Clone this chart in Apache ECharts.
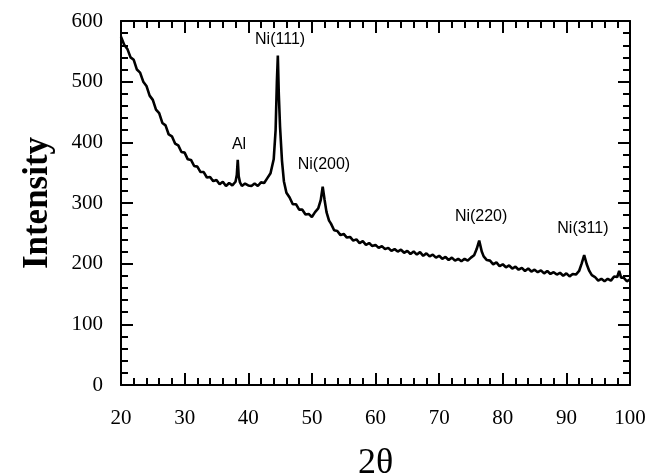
<!DOCTYPE html>
<html>
<head>
<meta charset="utf-8">
<script src="https://cdn.jsdelivr.net/npm/echarts@6/dist/echarts.min.js"></script>
<style>html,body{margin:0;padding:0;background:#fff}#c{width:648px;height:475px}</style>
</head>
<body>
<div id="c"></div>
<script>
const twoTheta = [20,20.5,21,21.5,22,22.5,23,23.5,24,24.5,25,25.5,26,26.5,27,27.5,28,28.5,29,29.5,
30,30.5,31,31.5,32,32.5,33,33.5,34,34.5,35,35.5,36,36.5,37,37.5,38,38.2,38.35,38.5,38.7,39,39.5,
40,40.5,41,41.5,42,42.5,43,43.5,44,44.3,44.5,44.65,44.8,45,45.3,45.6,46,46.5,47,47.5,48,48.5,49,49.5,
50,50.5,51,51.4,51.7,52,52.3,52.7,53,53.5,54,54.5,55,55.5,56,56.5,57,57.5,58,58.5,59,59.5,
60,60.5,61,61.5,62,62.5,63,63.5,64,64.5,65,65.5,66,66.5,67,67.5,68,68.5,69,69.5,
70,70.5,71,71.5,72,72.5,73,73.5,74,74.5,75,75.5,75.9,76.3,76.7,77,77.5,78,78.5,79,79.5,
80,80.5,81,81.5,82,82.5,83,83.5,84,84.5,85,85.5,86,86.5,87,87.5,88,88.5,89,89.5,
90,90.5,91,91.5,92,92.4,92.8,93.2,93.6,94,94.5,95,95.5,96,96.5,97,97.5,98,98.3,98.6,99,99.5,100];
const intensity = [574,561,554,540,536,520,515,500,493,477,470,454,448,432,428,413,410,398,395,384,
383,372,371,361,360,351,351,342,343,336,338,331,335,328,333,329,335,346,371,344,334,328,332,
329,328,332,328,334,333,341,349,372,420,500,543,480,425,370,336,317,309,298,298,289,289,281,282,
277,285,291,305,327,305,285,271,266,255,254,247,249,243,244,238,240,234,237,231,234,229,
231,226,229,224,226,221,224,220,223,218,221,216,220,215,219,213,217,212,215,210,
213,208,211,206,210,205,208,204,208,205,210,214,224,238,220,212,206,205,199,202,196,
199,194,197,192,195,190,193,188,192,187,190,186,189,184,188,183,186,182,185,180,
184,179,183,182,188,200,214,199,188,181,178,172,175,171,175,172,179,178,188,177,177,171,174];
const peakLabels = ['Al','Ni(111)','Ni(200)','Ni(220)','Ni(311)'];
const peakLabelX = [38.55,45.0,51.9,76.6,92.6];
const peakLabelY = [397,569,363,277,257];
const xTicks = [20,30,40,50,60,70,80,90,100];
const yTicks = [0,100,200,300,400,500,600];

const lineData = twoTheta.map((x,i)=>[x,intensity[i]]);
const labelData = peakLabels.map((n,i)=>({value:[peakLabelX[i],peakLabelY[i]],name:n}));

const axisCommon = {
  splitLine:{show:false},
  axisLine:{show:true,onZero:false,lineStyle:{color:'#000',width:2}},
  axisTick:{show:true,inside:true,length:12,lineStyle:{color:'#000',width:2}},
  minorTick:{show:true,splitNumber:5,length:7,lineStyle:{color:'#000',width:2}},
};
const labelFont = {color:'#000',fontFamily:'Liberation Serif',fontSize:21};

const chart = echarts.init(document.getElementById('c'),null,{renderer:'canvas'});
chart.setOption({
  animation:false,
  grid:{left:121,right:18,top:21,bottom:90,containLabel:false,outerBoundsMode:'none'},
  xAxis:[
    Object.assign({type:'value',min:xTicks[0],max:xTicks[xTicks.length-1],interval:10,position:'bottom',
      name:'2θ',nameLocation:'middle',nameGap:61,
      nameTextStyle:{color:'#000',fontFamily:'Liberation Serif',fontSize:36},
      axisLabel:Object.assign({margin:23},labelFont)},axisCommon),
    Object.assign({type:'value',min:xTicks[0],max:xTicks[xTicks.length-1],interval:10,position:'top',
      axisLabel:{show:false}},axisCommon)
  ],
  yAxis:[
    Object.assign({type:'value',min:yTicks[0],max:yTicks[yTicks.length-1],interval:100,position:'left',
      name:'Intensity',nameLocation:'middle',nameGap:66,
      nameTextStyle:{color:'#000',fontFamily:'Liberation Serif',fontSize:35,fontWeight:'bold'},
      axisLabel:Object.assign({margin:18},labelFont)},axisCommon),
    Object.assign({type:'value',min:yTicks[0],max:yTicks[yTicks.length-1],interval:100,position:'right',
      axisLabel:{show:false}},axisCommon)
  ],
  series:[
    {type:'line',data:lineData,showSymbol:false,symbol:'none',
      lineStyle:{color:'#000',width:2.6},z:3},
    {type:'scatter',data:labelData,symbolSize:0,itemStyle:{color:'#000',opacity:1},
      label:{show:true,position:'inside',formatter:p=>p.name,color:'#000',opacity:1,
        textBorderWidth:0,fontFamily:'Liberation Sans',fontSize:16}}
  ]
});
</script>
</body>
</html>
